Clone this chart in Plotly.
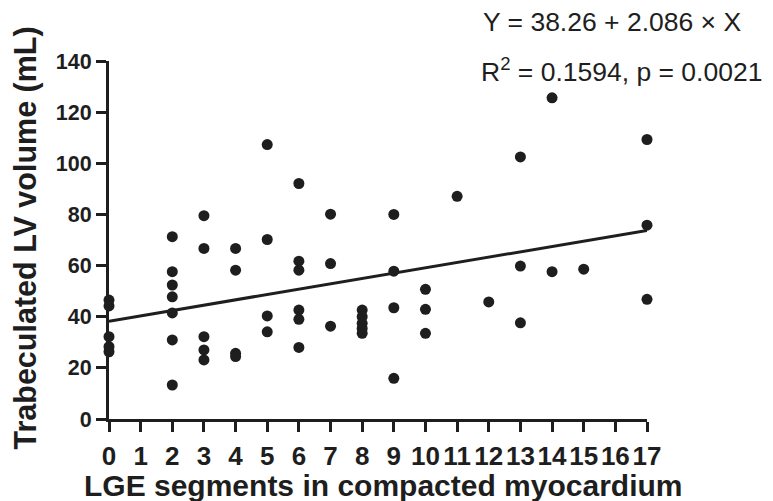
import plotly.graph_objects as go

# LGE segments (x) and trabeculated LV volume (y)
lge_segments = [0, 0, 0, 0, 0,
                2, 2, 2, 2, 2, 2, 2,
                3, 3, 3, 3, 3,
                4, 4, 4, 4,
                5, 5, 5, 5,
                6, 6, 6, 6, 6, 6,
                7, 7, 7,
                8, 8, 8, 8, 8,
                9, 9, 9, 9,
                10, 10, 10,
                11,
                12,
                13, 13, 13,
                14, 14,
                15,
                17, 17, 17]
lv_volume = [46.5, 44.2, 32.2, 28.3, 26.3,
             71.3, 57.6, 52.4, 47.8, 41.5, 30.9, 13.3,
             79.5, 66.7, 32.2, 27.0, 23.1,
             66.7, 58.2, 25.7, 24.4,
             107.3, 70.2, 40.3, 34.1,
             92.1, 61.7, 58.2, 42.6, 39.0, 28.0,
             80.1, 60.8, 36.3,
             42.6, 40.0, 37.4, 35.4, 33.5,
             80.0, 57.8, 43.5, 15.9,
             50.7, 42.9, 33.5,
             87.1,
             45.8,
             102.5, 59.8, 37.6,
             125.6, 57.6,
             58.6,
             109.3, 75.8, 46.8]

intercept = 38.26
slope = 2.086
fit_x = [0, 17]
fit_y = [intercept + slope * v for v in fit_x]

x_ticks = list(range(0, 18))
y_ticks = [0, 20, 40, 60, 80, 100, 120, 140]

x_title = "LGE segments in compacted myocardium"
y_title = "Trabeculated LV volume (mL)"
eq_text = "Y = 38.26 + 2.086 × X"
stat_text = "R<sup>2</sup> = 0.1594, p = 0.0021"

INK = "#1e1e1e"
FONT = "Liberation Sans, Arial, sans-serif"

W, H = 773, 501
ML, MR, MT, MB = 109, 126, 61, 82
PW, PH = W - ML - MR, H - MT - MB


def px_to_paper(px, py):
    return (px - ML) / PW, (H - MB - py) / PH


fig = go.Figure()
fig.add_trace(go.Scatter(x=fit_x, y=fit_y, mode="lines",
                         line=dict(color=INK, width=3),
                         cliponaxis=False, showlegend=False, hoverinfo="skip"))
fig.add_trace(go.Scatter(x=lge_segments, y=lv_volume, mode="markers",
                         marker=dict(color=INK, size=11),
                         cliponaxis=False, showlegend=False))

axis_common = dict(showgrid=False, zeroline=False, showline=True,
                   linecolor=INK, linewidth=3, ticks="outside",
                   ticklen=10, tickwidth=3, tickcolor=INK)

ax_x, ax_y = px_to_paper(383.5, 485.5)
ay_x, ay_y = px_to_paper(25, 238.5)
e_x, e_y = px_to_paper(481, 22)
s_x, s_y = px_to_paper(479, 70)

fig.update_layout(
    width=W, height=H,
    margin=dict(l=ML, r=MR, t=MT, b=MB),
    paper_bgcolor="white", plot_bgcolor="white",
    xaxis=dict(range=[0, 17], tickvals=x_ticks, ticktext=[str(t) for t in x_ticks],
               ticklabelstandoff=2,
               tickfont=dict(family=FONT, size=26, color=INK, weight="bold"),
               **axis_common),
    yaxis=dict(range=[0, 140], tickvals=y_ticks, ticklabelstandoff=0,
               tickfont=dict(family=FONT, size=21.5, color=INK, weight="bold"),
               **axis_common),
    annotations=[
        dict(x=ax_x, y=ax_y, xref="paper", yref="paper", showarrow=False,
             text=x_title, xanchor="center", yanchor="middle",
             font=dict(family=FONT, size=30, color=INK, weight="bold")),
        dict(x=ay_x, y=ay_y, xref="paper", yref="paper", showarrow=False,
             text=y_title, xanchor="center", yanchor="middle", textangle=-90,
             font=dict(family=FONT, size=30.5, color=INK, weight="bold")),
        dict(x=e_x, y=e_y, xref="paper", yref="paper", showarrow=False,
             text=eq_text, xanchor="left", yanchor="middle",
             font=dict(family=FONT, size=26.5, color=INK)),
        dict(x=s_x, y=s_y, xref="paper", yref="paper", showarrow=False,
             text=stat_text, xanchor="left", yanchor="middle",
             font=dict(family=FONT, size=26.5, color=INK)),
    ],
)

fig.write_html("out.html")
